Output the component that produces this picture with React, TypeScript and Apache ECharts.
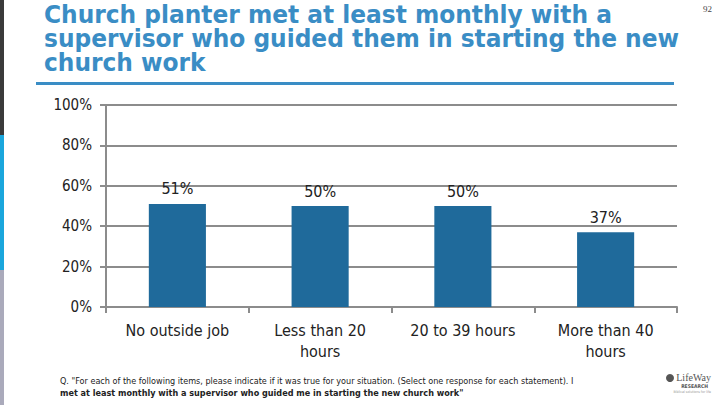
import React, { useEffect, useRef } from "react";
import * as echarts from "echarts";

const categories = ["No outside job", "Less than 20\nhours", "20 to 39 hours", "More than 40\nhours"];
const values = [51, 50, 50, 37];
const yTicks = [0, 20, 40, 60, 80, 100];
const titleLines = [
  "Church planter met at least monthly with a",
  "supervisor who guided them in starting the new",
  "church work",
];
const footLine1 = "Q. \"For each of the following items, please indicate if it was true for your situation. (Select one response for each statement). I";
const footLine2 = "met at least monthly with a supervisor who guided me in starting the new church work\"";

export default function App() {
  const ref = useRef<HTMLDivElement>(null);
  useEffect(() => {
    const chart = echarts.init(ref.current!, null, { renderer: "svg" });
    const font = "'DejaVu Sans Condensed', 'DejaVu Sans', sans-serif";
    chart.setOption({
      animation: false,
      backgroundColor: "#ffffff",
      grid: { left: 106, right: 43, top: 105, bottom: 98 },
      xAxis: {
        type: "category",
        data: categories,
        axisLine: { lineStyle: { color: "#8c8c8c", width: 2 } },
        axisTick: { show: true, alignWithLabel: false, length: 6, lineStyle: { color: "#8c8c8c", width: 2 } },
        axisLabel: { color: "#222", fontSize: 16, fontFamily: font, margin: 13, lineHeight: 21 },
      },
      yAxis: {
        type: "value",
        min: 0,
        max: 100,
        interval: 20,
        axisLine: { show: true, lineStyle: { color: "#8c8c8c", width: 2 } },
        axisTick: { show: true, inside: false, length: 6, lineStyle: { color: "#8c8c8c", width: 2 } },
        splitLine: { show: true, lineStyle: { color: "#8c8c8c", width: 2 } },
        axisLabel: {
          color: "#222",
          fontSize: 15,
          fontFamily: font,
          margin: 14,
          formatter: (v: number) => (yTicks.includes(v) ? v + "%" : ""),
        },
      },
      series: [
        {
          type: "bar",
          data: values,
          barWidth: "40%",
          itemStyle: { color: "#1f6a9b" },
          label: {
            show: true,
            position: "top",
            distance: 7,
            color: "#222",
            fontSize: 16,
            fontFamily: font,
            formatter: "{c}%",
          },
        },
      ],
      graphic: [
        { type: "rect", shape: { x: 0, y: 0, width: 4, height: 135 }, style: { fill: "#3a3a3a" } },
        { type: "rect", shape: { x: 0, y: 135, width: 4, height: 135 }, style: { fill: "#1aa6dc" } },
        { type: "rect", shape: { x: 0, y: 270, width: 4, height: 135 }, style: { fill: "#aaaabb" } },
        {
          type: "text",
          x: 44,
          y: 3,
          scaleX: 1.08,
          style: {
            text: titleLines.join("\n"),
            fill: "#3a8dc5",
            fontSize: 24,
            lineHeight: 24,
            fontWeight: "bold",
            fontFamily: font,
          },
        },
        { type: "rect", shape: { x: 36, y: 82, width: 638, height: 3 }, style: { fill: "#3a8dc5" } },
        {
          type: "text",
          x: 712,
          y: 4,
          style: { text: "92", fill: "#444", fontSize: 9, fontFamily: "'Liberation Serif', serif", align: "right" },
        },
        {
          type: "text",
          x: 60,
          y: 376,
          style: { text: footLine1, fill: "#222", fontSize: 9, fontFamily: font },
        },
        {
          type: "text",
          x: 60,
          y: 388,
          style: { text: footLine2, fill: "#222", fontSize: 9, fontWeight: "bold", fontFamily: font },
        },
        { type: "circle", shape: { cx: 670, cy: 378, r: 4 }, style: { fill: "#555" } },
        {
          type: "text",
          x: 711,
          y: 372,
          style: { text: "LifeWay", fill: "#555", fontSize: 10, fontFamily: "'Liberation Serif', serif", align: "right" },
        },
        {
          type: "text",
          x: 708,
          y: 383,
          style: { text: "RESEARCH", fill: "#555", fontSize: 5, fontWeight: "bold", fontFamily: font, align: "right" },
        },
        {
          type: "text",
          x: 711,
          y: 390,
          style: { text: "Biblical solutions for life", fill: "#999", fontSize: 3.5, fontFamily: font, align: "right" },
        },
      ],
    });
    return () => chart.dispose();
  }, []);
  return <div ref={ref} style={{ width: 720, height: 405, position: "fixed", left: 0, top: 0 }} />;
}
